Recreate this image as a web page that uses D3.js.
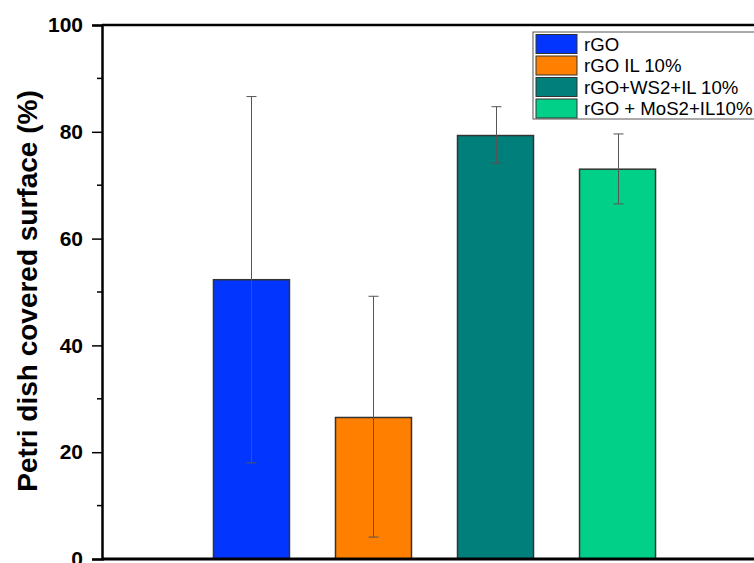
<!DOCTYPE html>
<html>
<head>
<meta charset="utf-8">
<script src="https://cdn.jsdelivr.net/npm/d3@7"></script>
<style>
  body { margin: 0; background: #fff; }
  svg { display: block; font-family: Arial, "Liberation Sans", sans-serif; }
</style>
</head>
<body>
<svg id="chart" width="754" height="563"></svg>
<script>
// data
const categories = ["rGO", "rGO IL 10%", "rGO+WS2+IL 10%", "rGO + MoS2+IL10%"];
const means = [52.3, 26.5, 79.3, 73.0];
const errLow = [18.0, 4.1, 74.1, 66.5];
const errHigh = [86.6, 49.2, 84.7, 79.6];
const colors = ["#0236fe", "#ff8000", "#017f7b", "#00d088"];
const yTicks = [0, 20, 40, 60, 80, 100];
const yMinor = [10, 30, 50, 70, 90];

const svg = d3.select("#chart");
const W = 754, H = 563;
const plotLeft = 102, plotTop = 25, plotBottom = 559;

const y = d3.scaleLinear().domain([0, 100]).range([plotBottom, plotTop]);
// category index -> x (plot extends past the right edge of the picture)
const x = d3.scaleLinear().domain([-0.225, 5.225]).range([plotLeft, 767]);
const barW = 76;

// bars
svg.append("g")
  .selectAll("rect")
  .data(categories)
  .join("rect")
    .attr("x", (d, i) => x(i + 1) - barW / 2)
    .attr("y", (d, i) => y(means[i]))
    .attr("width", barW)
    .attr("height", (d, i) => y(0) - y(means[i]))
    .attr("fill", (d, i) => colors[i])
    .attr("stroke", "#333")
    .attr("stroke-width", 1.5);

// error bars
const eb = svg.append("g")
  .attr("stroke", "#555")
  .attr("stroke-width", 1);
categories.forEach((c, i) => {
  const cx = Math.round(x(i + 1)) + 0.5;
  eb.append("line").attr("x1", cx).attr("x2", cx)
    .attr("y1", y(errLow[i])).attr("y2", y(errHigh[i]));
  [errLow[i], errHigh[i]].forEach(v => {
    eb.append("line").attr("x1", cx - 5).attr("x2", cx + 5)
      .attr("y1", y(v)).attr("y2", y(v));
  });
});

// frame: top and bottom lines
svg.append("line")
  .attr("x1", plotLeft).attr("x2", W + 5)
  .attr("y1", plotTop).attr("y2", plotTop)
  .attr("stroke", "#000").attr("stroke-width", 2.5);
svg.append("line")
  .attr("x1", plotLeft).attr("x2", W + 5)
  .attr("y1", plotBottom).attr("y2", plotBottom)
  .attr("stroke", "#000").attr("stroke-width", 3);

// y axis
const yAxis = svg.append("g")
  .attr("transform", `translate(${plotLeft},0)`)
  .call(d3.axisLeft(y).tickValues(yTicks).tickSize(10).tickPadding(9).tickFormat(d3.format("d")));
yAxis.select(".domain").attr("stroke-width", 2.5);
yAxis.selectAll(".tick line").attr("stroke-width", 1.5);
yAxis.selectAll(".tick text")
  .attr("font-size", 21)
  .attr("font-weight", "bold")
  .attr("font-family", "Arial, 'Liberation Sans', sans-serif")
  .attr("fill", "#000");

svg.append("g")
  .selectAll("line")
  .data(yMinor)
  .join("line")
    .attr("x1", plotLeft - 5).attr("x2", plotLeft)
    .attr("y1", d => y(d)).attr("y2", d => y(d))
    .attr("stroke", "#000").attr("stroke-width", 1.5);

// y title
svg.append("text")
  .attr("transform", "translate(37,291) rotate(-90)")
  .attr("text-anchor", "middle")
  .attr("font-size", 28)
  .attr("font-weight", "bold")
  .text("Petri dish covered surface (%)");

// legend
const lg = svg.append("g");
const lgX = 533, lgY = 32, rowH = 21.5;
lg.append("rect")
  .attr("x", lgX).attr("y", lgY)
  .attr("width", 240).attr("height", rowH * 4 + 1)
  .attr("fill", "#fff").attr("stroke", "#555").attr("stroke-width", 1);
const row = lg.selectAll("g.row")
  .data(categories)
  .join("g")
    .attr("class", "row")
    .attr("transform", (d, i) => `translate(${lgX + 3},${lgY + 2.5 + i * rowH})`);
row.append("rect")
  .attr("width", 41).attr("height", 19)
  .attr("fill", (d, i) => colors[i])
  .attr("stroke", "#333").attr("stroke-width", 1);
row.append("text")
  .attr("x", 48).attr("y", 16)
  .attr("font-size", 18.6)
  .text(d => d);
</script>
</body>
</html>
